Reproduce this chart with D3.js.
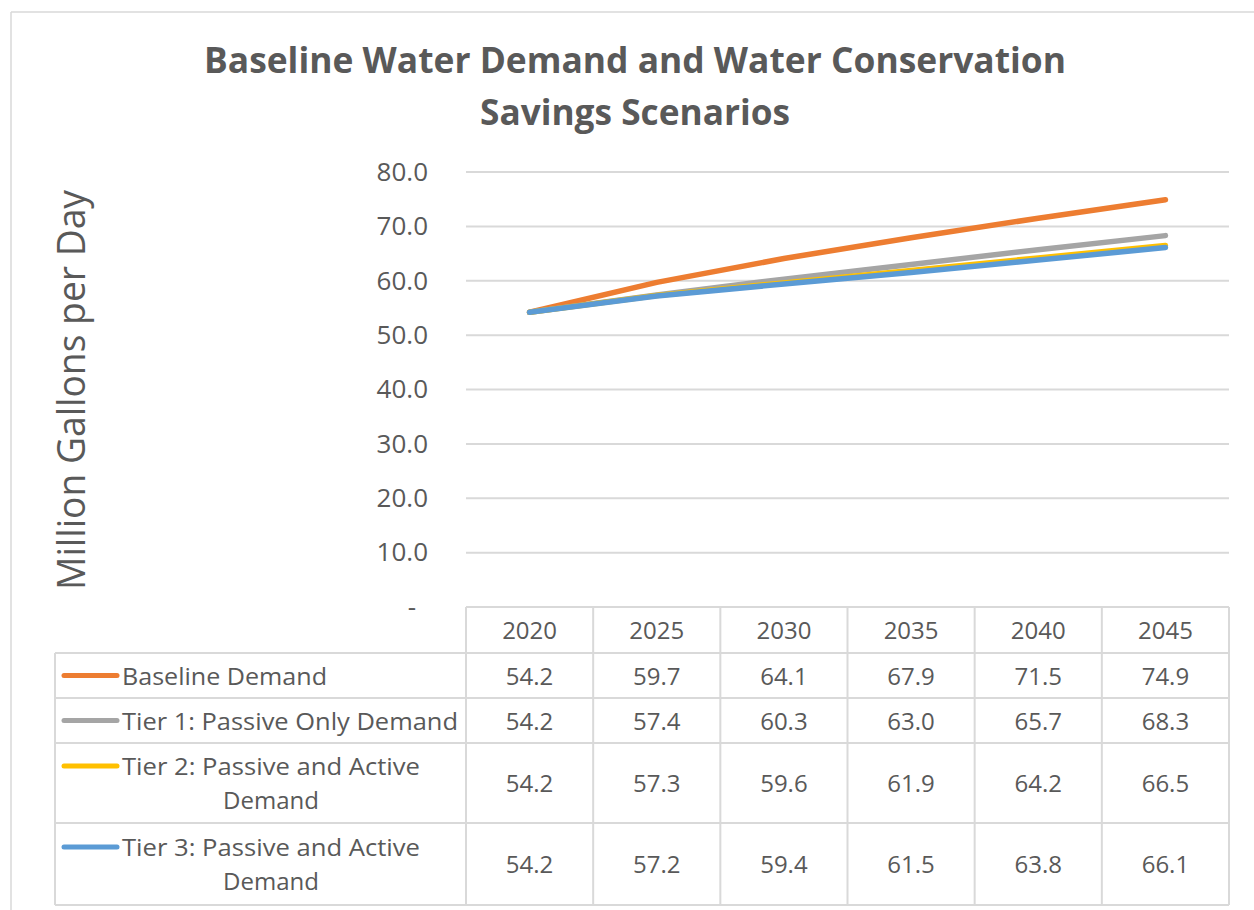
<!DOCTYPE html>
<html>
<head>
<meta charset="utf-8">
<script src="https://cdn.jsdelivr.net/npm/d3@7"></script>
<style>
  html, body { margin: 0; padding: 0; background: #fff; }
  svg { display: block; font-family: "Open Sans", "Noto Sans", sans-serif; }
</style>
</head>
<body>
<svg id="chart" width="1254" height="910"></svg>
<script>
// Projection years and demand series (million gallons per day)
const years = ["2020", "2025", "2030", "2035", "2040", "2045"];
const seriesNames = [
  "Baseline Demand",
  "Tier 1: Passive Only Demand",
  "Tier 2: Passive and Active Demand",
  "Tier 3: Passive and Active Demand"
];
const legendLines = [
  ["Baseline Demand"],
  ["Tier 1: Passive Only Demand"],
  ["Tier 2: Passive and Active", "Demand"],
  ["Tier 3: Passive and Active", "Demand"]
];
const baselineDemand = [54.2, 59.7, 64.1, 67.9, 71.5, 74.9];
const tier1Demand    = [54.2, 57.4, 60.3, 63.0, 65.7, 68.3];
const tier2Demand    = [54.2, 57.3, 59.6, 61.9, 64.2, 66.5];
const tier3Demand    = [54.2, 57.2, 59.4, 61.5, 63.8, 66.1];
const yTicks = [0, 10, 20, 30, 40, 50, 60, 70, 80];
const seriesColors = ["#ED7D31", "#A5A5A5", "#FFC000", "#5B9BD5"];

const seriesValues = [baselineDemand, tier1Demand, tier2Demand, tier3Demand];

const textColor = "#595959";
const gridColor = "#D9D9D9";

const svg = d3.select("#chart");

// Chart frame (left and top edges)
svg.append("line").attr("x1", 11).attr("y1", 12).attr("x2", 11).attr("y2", 910)
  .attr("stroke", gridColor).attr("stroke-width", 1.5);
svg.append("line").attr("x1", 11).attr("y1", 12).attr("x2", 1254).attr("y2", 12)
  .attr("stroke", gridColor).attr("stroke-width", 1.5);

// Title
const title = svg.append("g").attr("fill", textColor).attr("font-weight", "bold")
  .attr("font-size", 36).attr("text-anchor", "middle");
title.append("text").attr("x", 635).attr("y", 73)
  .attr("textLength", 862).attr("lengthAdjust", "spacingAndGlyphs")
  .text("Baseline Water Demand and Water Conservation");
title.append("text").attr("x", 635).attr("y", 125)
  .attr("textLength", 310).attr("lengthAdjust", "spacingAndGlyphs")
  .text("Savings Scenarios");

// Scales
const x = d3.scaleBand().domain(years).range([466, 1229]).paddingInner(0).paddingOuter(0);
const y = d3.scaleLinear().domain([0, 80]).range([607, 172]);

// Gridlines
svg.append("g").selectAll("line")
  .data(yTicks.filter(d => d > 0))
  .join("line")
  .attr("x1", 466).attr("x2", 1229)
  .attr("y1", d => y(d)).attr("y2", d => y(d))
  .attr("stroke", gridColor).attr("stroke-width", 2);

// Y axis
const yAxis = svg.append("g")
  .attr("transform", "translate(466,0)")
  .call(d3.axisLeft(y).tickValues(yTicks).tickSize(0).tickPadding(38)
    .tickFormat(d => d === 0 ? "-" : d3.format(".1f")(d)));
yAxis.select(".domain").remove();
yAxis.selectAll("text")
  .attr("fill", textColor)
  .attr("font-size", 26)
  .attr("font-family", "\"Open Sans\", sans-serif")
  .attr("dx", d => d === 0 ? -12 : 0);

// Y axis title
svg.append("text")
  .attr("transform", "translate(85,390) rotate(-90)")
  .attr("text-anchor", "middle")
  .attr("fill", textColor)
  .attr("font-size", 38)
  .attr("textLength", 400).attr("lengthAdjust", "spacingAndGlyphs")
  .text("Million Gallons per Day");

// Series lines
const line = d3.line()
  .x((d, i) => x(years[i]) + x.bandwidth() / 2)
  .y(d => y(d));
svg.append("g").selectAll("path")
  .data(seriesValues)
  .join("path")
  .attr("d", d => line(d))
  .attr("fill", "none")
  .attr("stroke", (d, i) => seriesColors[i])
  .attr("stroke-width", 5.5)
  .attr("stroke-linecap", "round")
  .attr("stroke-linejoin", "round");

// Data table
const rowEdges = [607, 653, 698, 743, 823, 905];
const tableLeft = 55;
const table = svg.append("g");
const border = (x1, y1, x2, y2) => table.append("line")
  .attr("x1", x1).attr("y1", y1).attr("x2", x2).attr("y2", y2)
  .attr("stroke", gridColor).attr("stroke-width", 2);

// Horizontal borders
border(466, rowEdges[0], 1229, rowEdges[0]);
rowEdges.slice(1).forEach(e => border(tableLeft, e, 1229, e));
// Vertical borders
border(tableLeft, rowEdges[1], tableLeft, rowEdges[5]);
years.forEach(yr => border(x(yr), rowEdges[0], x(yr), rowEdges[5]));
border(1229, rowEdges[0], 1229, rowEdges[5]);

// Header years
table.append("g").selectAll("text")
  .data(years)
  .join("text")
  .attr("x", d => x(d) + x.bandwidth() / 2)
  .attr("y", (rowEdges[0] + rowEdges[1]) / 2 + 9)
  .attr("text-anchor", "middle")
  .attr("fill", textColor)
  .attr("font-size", 24)
  .text(d => d);

// Rows: legend key, label and values
seriesValues.forEach((vals, r) => {
  const top = rowEdges[r + 1], bottom = rowEdges[r + 2];
  const mid = (top + bottom) / 2;
  const lines = legendLines[r];
  const lineGap = 34;
  const firstBaseline = mid + 9 - (lines.length - 1) * lineGap / 2;

  table.append("line")
    .attr("x1", 64).attr("x2", 117)
    .attr("y1", firstBaseline - 9).attr("y2", firstBaseline - 9)
    .attr("stroke", seriesColors[r]).attr("stroke-width", 5)
    .attr("stroke-linecap", "round");

  const label = table.append("text")
    .attr("fill", textColor)
    .attr("font-size", 24)
    .attr("text-anchor", "middle");
  // Multi-line labels are centred on the first line's extent
  const blockWidths = { "Baseline Demand": 205, "Tier 1: Passive Only Demand": 336, "Tier 2: Passive and Active": 298, "Tier 3: Passive and Active": 298 };
  const blockW = blockWidths[lines[0]];
  lines.forEach((t, k) => {
    const ts = label.append("tspan")
      .attr("x", 122 + blockW / 2)
      .attr("y", firstBaseline + k * lineGap)
      .text(t);
    if (blockWidths[t]) ts.attr("textLength", blockWidths[t]).attr("lengthAdjust", "spacingAndGlyphs");
  });

  table.append("g").selectAll("text")
    .data(vals)
    .join("text")
    .attr("x", (d, i) => x(years[i]) + x.bandwidth() / 2)
    .attr("y", mid + 9)
    .attr("text-anchor", "middle")
    .attr("fill", textColor)
    .attr("font-size", 24)
    .text(d => d3.format(".1f")(d));
});
</script>
</body>
</html>
